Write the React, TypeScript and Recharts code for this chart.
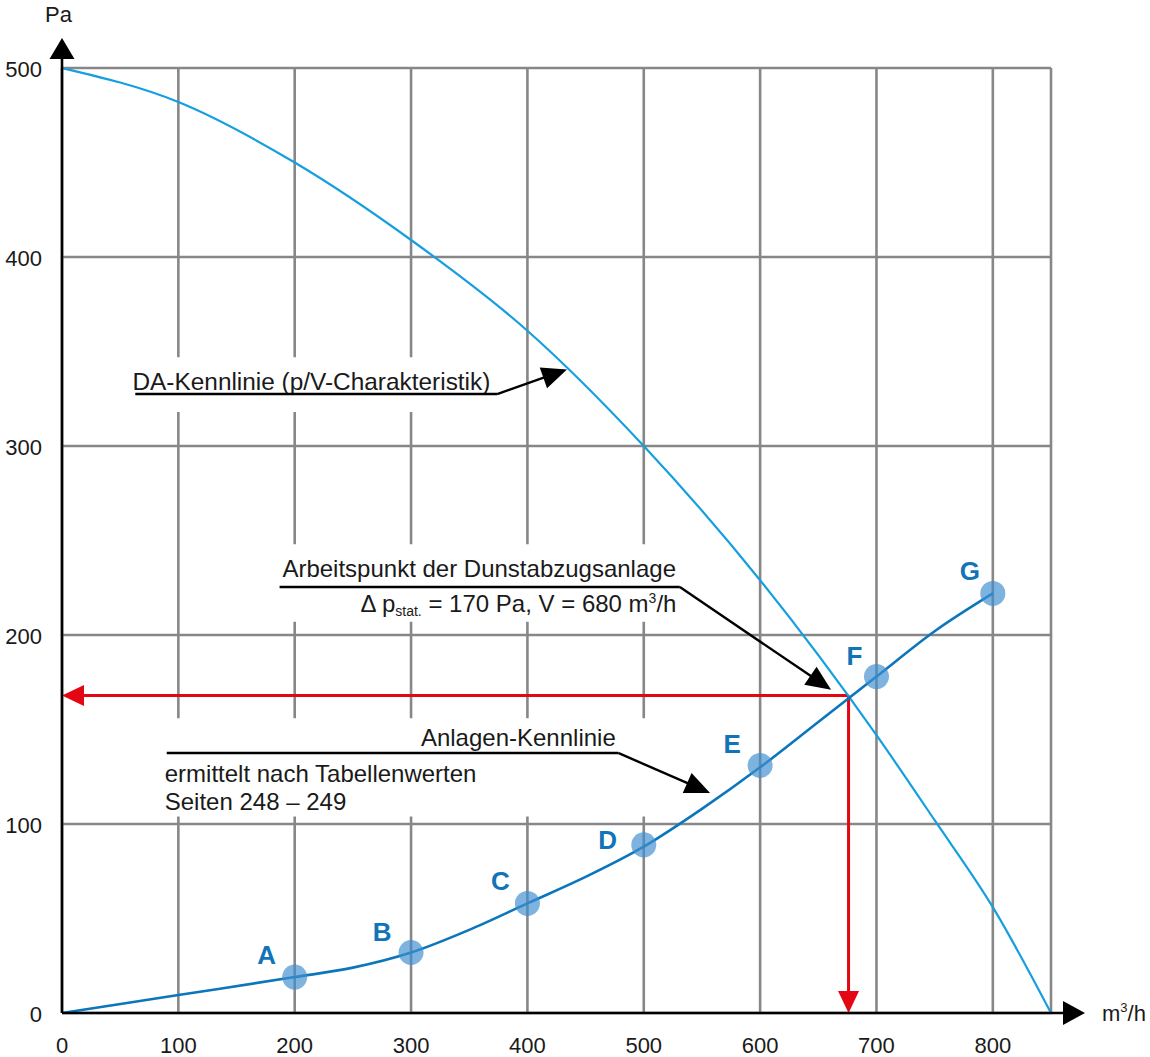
import React from 'react';
import {
  ComposedChart,
  Line,
  Scatter,
  XAxis,
  YAxis,
  CartesianGrid,
  ReferenceLine,
  ReferenceArea,
} from 'recharts';

// ---------- data ----------
const X_TICKS = [0, 100, 200, 300, 400, 500, 600, 700, 800];
const X_GRID_END = 850;
const Y_TICKS = [0, 100, 200, 300, 400, 500];

// DA-Kennlinie (fan curve p/V)
const FAN_V = [0, 100, 200, 300, 400, 500, 600, 700, 750, 800, 850];
const FAN_P = [500, 482, 450, 409, 361, 300, 229, 147, 102, 56, 0];

// Anlagen-Kennlinie (system curve)
const SYS_V = [0, 100, 200, 250, 300, 350, 400, 450, 500, 550, 600, 650, 700, 750, 800];
const SYS_P = [0, 9.5, 19, 24, 32, 44, 58, 72, 88, 108, 130, 154, 178, 202, 222];

// table points
const POINT_NAMES = ['A', 'B', 'C', 'D', 'E', 'F', 'G'];
const POINT_V = [200, 300, 400, 500, 600, 700, 800];
const POINT_P = [19, 32, 58, 89, 131, 178, 222];

// operating point (drawn intersection)
const OP_V = 676;
const OP_P = 168;

const TXT_FAN = 'DA-Kennlinie (p/V-Charakteristik)';
const TXT_OP1 = 'Arbeitspunkt der Dunstabzugsanlage';
const TXT_SYS1 = 'Anlagen-Kennlinie';
const TXT_SYS2 = 'ermittelt nach Tabellenwerten';
const TXT_SYS3 = 'Seiten 248 – 249';

// ---------- build tables ----------
const fanData = FAN_V.map((v, i) => ({ v, p: FAN_P[i] }));
const sysData = SYS_V.map((v, i) => ({ v, p: SYS_P[i] }));
const pointData = POINT_V.map((v, i) => ({ v, p: POINT_P[i], name: POINT_NAMES[i] }));

// ---------- styles ----------
const FONT = '"Liberation Sans", Arial, Helvetica, sans-serif';
const GRID = '#878787';
const FAN_COLOR = '#159fdf';
const SYS_COLOR = '#0b76bb';
const DOT_COLOR = '#3f8fcf';
const LETTER_COLOR = '#1174b7';
const RED = '#e30613';
const TEXT = '#1a1a1a';

const LETTER_OFFSET: Record<string, [number, number]> = {
  A: [-28, 9],
  B: [-29, 10],
  C: [-27, 9],
  D: [-36, 26],
  E: [-28, 10],
  F: [-22, 10],
  G: [-23, 9],
};

type ArrowOpts = {
  color: string;
  width: number;
  headLen: number;
  headW: number;
  extend?: number;
  extra?: (tx: number, ty: number) => React.ReactNode;
};

const arrowShape = (o: ArrowOpts) => (props: any) => {
  const { x1, y1, x2, y2 } = props;
  if ([x1, y1, x2, y2].some((n) => typeof n !== 'number' || isNaN(n))) return <g />;
  const dx = x2 - x1;
  const dy = y2 - y1;
  const len = Math.hypot(dx, dy) || 1;
  const ux = dx / len;
  const uy = dy / len;
  const ext = o.extend || 0;
  const tx = x2 + ux * ext;
  const ty = y2 + uy * ext;
  const bx = tx - ux * o.headLen;
  const by = ty - uy * o.headLen;
  const nx = -uy;
  const ny = ux;
  const h = o.headW / 2;
  return (
    <g>
      <line x1={x1} y1={y1} x2={bx + ux * 1} y2={by + uy * 1} stroke={o.color} strokeWidth={o.width} />
      <polygon
        points={`${tx},${ty} ${bx + nx * h},${by + ny * h} ${bx - nx * h},${by - ny * h}`}
        fill={o.color}
      />
      {o.extra ? o.extra(tx, ty) : null}
    </g>
  );
};

const plainLine = (color: string, width: number) => (props: any) => {
  const { x1, y1, x2, y2 } = props;
  if ([x1, y1, x2, y2].some((n) => typeof n !== 'number' || isNaN(n))) return <g />;
  return <line x1={x1} y1={y1} x2={x2} y2={y2} stroke={color} strokeWidth={width} />;
};

const XTick = (props: any) => {
  const { x, y, payload } = props;
  if (payload.value === X_GRID_END) return <g />;
  return (
    <text x={x} y={y + 40} textAnchor="middle" fontFamily={FONT} fontSize={22} fill={TEXT}>
      {payload.value}
    </text>
  );
};

const YTick = (props: any) => {
  const { x, y, payload } = props;
  return (
    <text x={x - 20} y={y + 9} textAnchor="end" fontFamily={FONT} fontSize={22} fill={TEXT}>
      {payload.value}
    </text>
  );
};

const PointShape = (props: any) => {
  const { cx, cy, payload } = props;
  if (typeof cx !== 'number' || typeof cy !== 'number') return <g />;
  const off = LETTER_OFFSET[payload.name] || [-27, 9];
  return (
    <g>
      <circle cx={cx} cy={cy} r={12.5} fill={DOT_COLOR} fillOpacity={0.68} />
      <text
        x={cx + off[0]}
        y={cy - 22 + off[1]}
        textAnchor="middle"
        fontFamily={FONT}
        fontWeight="bold"
        fontSize={26}
        fill={LETTER_COLOR}
      >
        {payload.name}
      </text>
    </g>
  );
};

const fanLabel = (props: any) => {
  const { x, y } = props.viewBox;
  return (
    <text x={x + 3} y={y + 33} fontFamily={FONT} fontSize={24.4} fill={TEXT}>
      {TXT_FAN}
    </text>
  );
};

const opLabel = (props: any) => {
  const { x, y } = props.viewBox;
  const right = x + 398;
  return (
    <g fontFamily={FONT} fill={TEXT}>
      <text x={x + 4} y={y + 33} fontSize={24}>
        {TXT_OP1}
      </text>
      <text x={right} y={y + 68} fontSize={24} textAnchor="end">
        <tspan>Δ p</tspan>
        <tspan fontSize={14} dy={4}>stat.</tspan>
        <tspan dy={-4}> = 170 Pa, V = 680 m</tspan>
        <tspan fontSize={14} dy={-9}>3</tspan>
        <tspan dy={9}>/h</tspan>
      </text>
    </g>
  );
};

const sysLabel = (props: any) => {
  const { x, y } = props.viewBox;
  return (
    <g fontFamily={FONT} fill={TEXT} fontSize={24}>
      <text x={x + 456} y={y + 28} textAnchor="end">
        {TXT_SYS1}
      </text>
      <text x={x + 5} y={y + 64}>{TXT_SYS2}</text>
      <text x={x + 5} y={y + 92}>{TXT_SYS3}</text>
    </g>
  );
};

export default function App() {
  return (
    <div style={{ position: 'absolute', left: 0, top: 0, width: 1150, height: 1057, background: '#fff' }}>
      <ComposedChart
        width={1150}
        height={1057}
        margin={{ top: 68, right: 99, bottom: 14, left: 0 }}
      >
        <CartesianGrid
          stroke={GRID}
          strokeWidth={2.6}
          horizontal
          vertical
        />
        <XAxis
          dataKey="v"
          type="number"
          domain={[0, X_GRID_END]}
          ticks={[...X_TICKS, X_GRID_END]}
          allowDataOverflow
          axisLine={false}
          tickLine={false}
          tickSize={0}
          tickMargin={0}
          height={30}
          tick={<XTick />}
          interval={0}
        />
        <YAxis
          dataKey="p"
          type="number"
          domain={[0, 500]}
          ticks={Y_TICKS}
          allowDataOverflow
          axisLine={false}
          tickLine={false}
          tickSize={0}
          tickMargin={0}
          width={62}
          tick={<YTick />}
          interval={0}
        />

        {/* white boxes behind annotation texts */}
        <ReferenceArea x1={58} x2={376} y1={318} y2={347} fill="#fff" fillOpacity={1} stroke="none" label={fanLabel} ifOverflow="visible" />
        <ReferenceArea x1={186} x2={540} y1={207} y2={248} fill="#fff" fillOpacity={1} stroke="none" label={opLabel} ifOverflow="visible" />
        <ReferenceArea x1={84} x2={509} y1={104} y2={156} fill="#fff" fillOpacity={1} stroke="none" label={sysLabel} ifOverflow="visible" />

        {/* operating point guide lines */}
        <ReferenceLine
          segment={[{ x: OP_V, y: OP_P }, { x: 0, y: OP_P }]}
          ifOverflow="visible"
          shape={arrowShape({ color: RED, width: 3, headLen: 22, headW: 21 })}
        />
        <ReferenceLine
          segment={[{ x: OP_V, y: OP_P }, { x: OP_V, y: 0 }]}
          ifOverflow="visible"
          shape={arrowShape({ color: RED, width: 3, headLen: 22, headW: 21 })}
        />

        <Scatter data={pointData} dataKey="p" shape={<PointShape />} isAnimationActive={false} />

        <Line
          data={fanData}
          dataKey="p"
          type="monotone"
          stroke={FAN_COLOR}
          strokeWidth={2.2}
          dot={false}
          activeDot={false}
          isAnimationActive={false}
        />
        <Line
          data={sysData}
          dataKey="p"
          type="monotone"
          stroke={SYS_COLOR}
          strokeWidth={2.6}
          dot={false}
          activeDot={false}
          isAnimationActive={false}
        />

        {/* annotation leader lines */}
        <ReferenceLine segment={[{ x: 63, y: 327.5 }, { x: 374, y: 327.5 }]} ifOverflow="visible" shape={plainLine('#000', 2.4)} />
        <ReferenceLine segment={[{ x: 374, y: 327.5 }, { x: 434, y: 340.5 }]} ifOverflow="visible" shape={arrowShape({ color: '#000', width: 2.4, headLen: 25, headW: 22 })} />

        <ReferenceLine segment={[{ x: 187, y: 225.4 }, { x: 531, y: 225.4 }]} ifOverflow="visible" shape={plainLine('#000', 2.4)} />
        <ReferenceLine segment={[{ x: 531, y: 225.4 }, { x: 661, y: 171 }]} ifOverflow="visible" shape={arrowShape({ color: '#000', width: 2.4, headLen: 25, headW: 22 })} />

        <ReferenceLine segment={[{ x: 90, y: 137.6 }, { x: 478, y: 137.6 }]} ifOverflow="visible" shape={plainLine('#000', 2.4)} />
        <ReferenceLine segment={[{ x: 478, y: 137.6 }, { x: 557, y: 116.4 }]} ifOverflow="visible" shape={arrowShape({ color: '#000', width: 2.4, headLen: 25, headW: 22 })} />

        {/* axes with arrows */}
        <ReferenceLine
          segment={[{ x: 0, y: 0 }, { x: 0, y: 500 }]}
          ifOverflow="visible"
          shape={arrowShape({
            color: '#000',
            width: 2.6,
            headLen: 21,
            headW: 25,
            extend: 30,
            extra: (tx, ty) => (
              <text x={tx - 17} y={ty - 16} fontFamily={FONT} fontSize={22} fill={TEXT}>
                Pa
              </text>
            ),
          })}
        />
        <ReferenceLine
          segment={[{ x: 0, y: 0 }, { x: X_GRID_END, y: 0 }]}
          ifOverflow="visible"
          shape={arrowShape({
            color: '#000',
            width: 2.6,
            headLen: 22,
            headW: 24,
            extend: 34,
            extra: (tx, ty) => (
              <text x={tx + 17} y={ty + 8} fontFamily={FONT} fontSize={22} fill={TEXT}>
                <tspan>m</tspan>
                <tspan fontSize={13} dy={-9}>3</tspan>
                <tspan dy={9}>/h</tspan>
              </text>
            ),
          })}
        />
      </ComposedChart>
    </div>
  );
}
